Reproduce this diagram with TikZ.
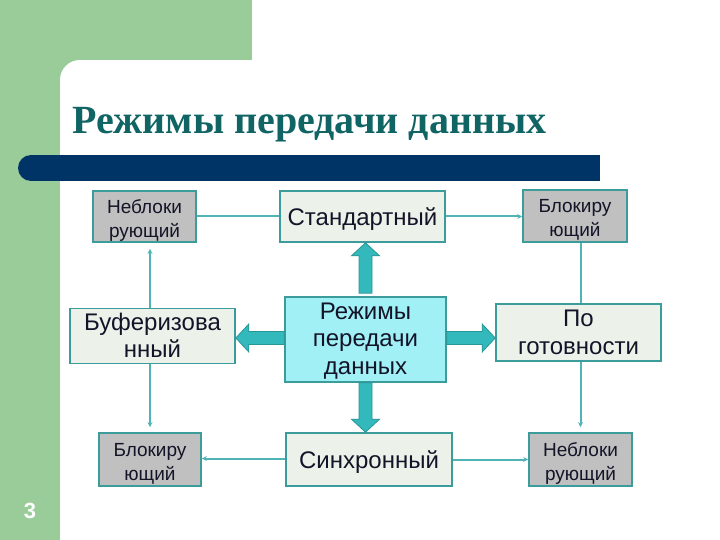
\documentclass[tikz,border=0pt]{standalone}
\usepackage{fontspec}
\setmainfont{Liberation Serif}
\newfontfamily\arialf{Liberation Sans}
\usetikzlibrary{calc,arrows.meta}
\definecolor{slgreen}{RGB}{153,204,153}
\definecolor{navybar}{RGB}{0,51,102}
\definecolor{titlec}{RGB}{16,100,100}
\definecolor{boxline}{RGB}{60,155,155}
\definecolor{lightfill}{RGB}{236,242,234}
\definecolor{grayfill}{RGB}{192,192,192}
\definecolor{cyanfill}{RGB}{160,240,245}
\definecolor{connc}{RGB}{80,180,182}
\definecolor{arrfill}{RGB}{51,184,188}
\definecolor{arrline}{RGB}{40,150,150}
\definecolor{txt}{RGB}{20,20,40}
\begin{document}
\begin{tikzpicture}[x=1pt,y=-1pt,
  box/.style={draw=boxline, line width=1.6pt, inner sep=0pt, align=center, text=txt,
    font=\arialf\fontsize{24}{27.5}\selectfont},
  lboxa/.style={box, fill=lightfill, text height=24pt, text depth=6pt},
  lboxb/.style={box, fill=lightfill, text height=49pt, text depth=6pt},
  gbox/.style={box, fill=grayfill, font=\arialf\fontsize{19}{24}\selectfont, text height=46pt, text depth=5pt},
  cbox/.style={box, fill=cyanfill, text height=75pt, text depth=6pt},
  conn/.style={draw=connc, line width=2pt},
  conna/.style={conn, -{Stealth[length=5pt,width=5pt]}},
  barrow/.style={fill=arrfill, draw=arrline, line width=0.8pt, line join=miter}]
\useasboundingbox (0,0) rectangle (720,540);
\fill[white] (0,0) rectangle (720,540);
% slide decoration
\fill[slgreen] (0,0) rectangle (252,60);
\fill[slgreen] (0,0) rectangle (60,540);
\fill[slgreen] (60,60) rectangle (80,80);
\fill[white] (80,80) circle[radius=20];
\fill[white] (80,60) rectangle (252,80);
\fill[white] (60,80) rectangle (80,100);
% title
\node[anchor=base west, inner sep=0pt, text=titlec, font=\bfseries\fontsize{40}{40}\selectfont] (title) at (72,134) {Режимы передачи данных};
% bar
\fill[navybar] (31,155) rectangle (600,181);
\fill[navybar] (31,168) circle[radius=13];
% boxes
\node[gbox, minimum width=103pt, minimum height=51pt] (nb1) at (144.5,216.5) {Неблоки\\рующий};
\node[lboxa, minimum width=165pt, minimum height=51pt] (std) at (362.5,216.5) {Стандартный};
\node[gbox, minimum width=104pt, minimum height=52pt] (bk1) at (575,216) {Блокиру\\ющий};
\node[lboxb, minimum width=165pt, minimum height=52pt] (buf) at (152.5,336) {Буферизова\\нный};
\node[cbox, minimum width=161pt, minimum height=85pt] (mode) at (365.5,339.5) {Режимы\\передачи\\данных};
\node[lboxb, minimum width=165pt, minimum height=57pt] (gotov) at (578.5,332.5) {По\\готовности};
\node[gbox, minimum width=102pt, minimum height=53pt] (bk2) at (150,459.5) {Блокиру\\ющий};
\node[lboxa, minimum width=166pt, minimum height=53pt] (sync) at (369,459.5) {Синхронный};
\node[gbox, minimum width=103pt, minimum height=53pt] (nb2) at (580.5,459.5) {Неблоки\\рующий};
% thin connectors
\draw[conn] (std.west) -- (std.west -| nb1.east);
\draw[conna] (std.east) -- (std.east -| bk1.west);
\draw[conna, shorten >=6pt] ([xshift=-2.5pt]buf.north) -- ([xshift=-2.5pt]buf.north |- nb1.south);
\draw[conna, shorten >=5pt] ([xshift=-2.5pt]buf.south) -- ([xshift=-2.5pt]buf.south |- bk2.north);
\draw[conna] ([yshift=1pt]sync.west) -- ([yshift=1pt]sync.west -| bk2.east);
\draw[conna] (sync.east) -- (sync.east -| nb2.west);
\draw[conn] ([xshift=2pt]gotov.north) -- ([xshift=2pt]gotov.north |- bk1.south);
\draw[conna, shorten >=5pt] ([xshift=2pt]gotov.south) -- ([xshift=2pt]gotov.south |- nb2.north);
% block arrows
\coordinate (ut) at (mode.north |- std.south);
\draw[barrow] ($(mode.north)+(-6.5,-3)$) -- ($(ut)+(-6.5,13)$) -- ($(ut)+(-14,13)$) -- (ut) -- ($(ut)+(14,13)$) -- ($(ut)+(6.5,13)$) -- ($(mode.north)+(6.5,-3)$) -- cycle;
\coordinate (dt) at (mode.south |- sync.north);
\draw[barrow] ($(mode.south)+(-6.5,0)$) -- ($(dt)+(-6.5,-13)$) -- ($(dt)+(-14,-13)$) -- (dt) -- ($(dt)+(14,-13)$) -- ($(dt)+(6.5,-13)$) -- ($(mode.south)+(6.5,0)$) -- cycle;
\coordinate (lt) at ([yshift=1.5pt]buf.east |- mode.west);
\draw[barrow] ($(lt -| mode.west)+(0,-6.5)$) -- ($(lt)+(13,-6.5)$) -- ($(lt)+(13,-14)$) -- (lt) -- ($(lt)+(13,14)$) -- ($(lt)+(13,6.5)$) -- ($(lt -| mode.west)+(0,6.5)$) -- cycle;
\coordinate (rt) at ([yshift=1.5pt]gotov.west |- mode.east);
\draw[barrow] ($(rt -| mode.east)+(0,-6.5)$) -- ($(rt)+(-13,-6.5)$) -- ($(rt)+(-13,-14)$) -- (rt) -- ($(rt)+(-13,14)$) -- ($(rt)+(-13,6.5)$) -- ($(rt -| mode.east)+(0,6.5)$) -- cycle;
% page number
\node[text=white, font=\arialf\bfseries\fontsize{22}{22}\selectfont] (pg) at (30,511) {3};
\end{tikzpicture}
\end{document}
